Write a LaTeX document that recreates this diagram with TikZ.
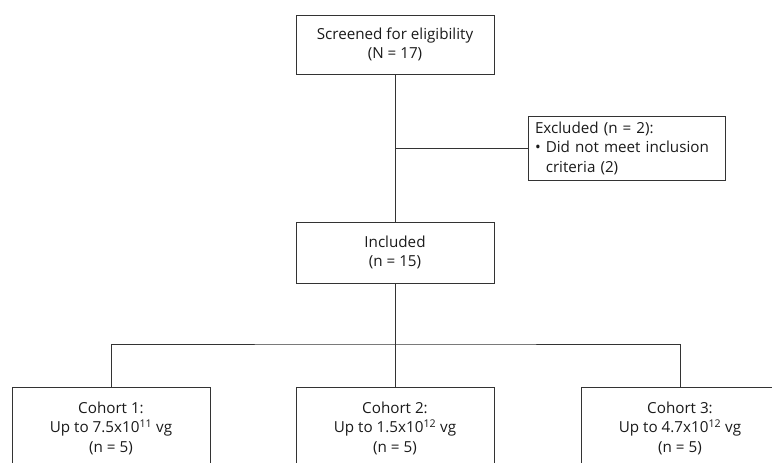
\documentclass[tikz,border=0pt]{standalone}
\usepackage{fontspec}
\setmainfont{Open Sans}
\usepackage{tikz}
\usetikzlibrary{positioning}

\definecolor{linegray}{HTML}{333333}
\definecolor{textgray}{HTML}{1A1A1A}

\begin{document}
\begin{tikzpicture}[x=1pt,y=-1pt,
	box/.style={draw=linegray,line width=0.9pt,text=textgray,align=center,
		minimum width=198pt,inner sep=0pt,font=\fontsize{15.2}{19.5}\selectfont},
	link/.style={draw=linegray,line width=0.9pt}]
	\useasboundingbox (0,0) rectangle (772,463);
	\clip (0,0) rectangle (772,463);
	\node[box,minimum height=64pt,minimum width=0pt,text width=183pt,inner xsep=7pt,align=left] (excl) at (626.5,148)
		{Excluded (n = 2):\\\textbullet\ \parbox[t]{170pt}{Did not meet inclusion\\criteria (2)}};
	\node[box,minimum height=59pt] (screen) at (395,44.5) {Screened for eligibility\\(N = 17)};
	\node[box,minimum height=61pt] (incl) at (395,252.5) {Included\\(n = 15)};
	\node[box,minimum height=82pt] (c1) at (111,428) {Cohort 1:\\Up to 7.5x10\textsuperscript{11} vg\\(n = 5)};
	\node[box,minimum height=82pt] (c2) at (395,428) {Cohort 2:\\Up to 1.5x10\textsuperscript{12} vg\\(n = 5)};
	\node[box,minimum height=82pt] (c3) at (680,428) {Cohort 3:\\Up to 4.7x10\textsuperscript{12} vg\\(n = 5)};
	\coordinate (split) at (395,344);
	\path[link] (screen) -- (incl)
		(excl.west) -- (excl.west -| screen.south)
		(incl) -- (split)
		(c1.north) |- (split) -| (c3.north)
		(split) -- (c2.north);
\end{tikzpicture}
\end{document}
